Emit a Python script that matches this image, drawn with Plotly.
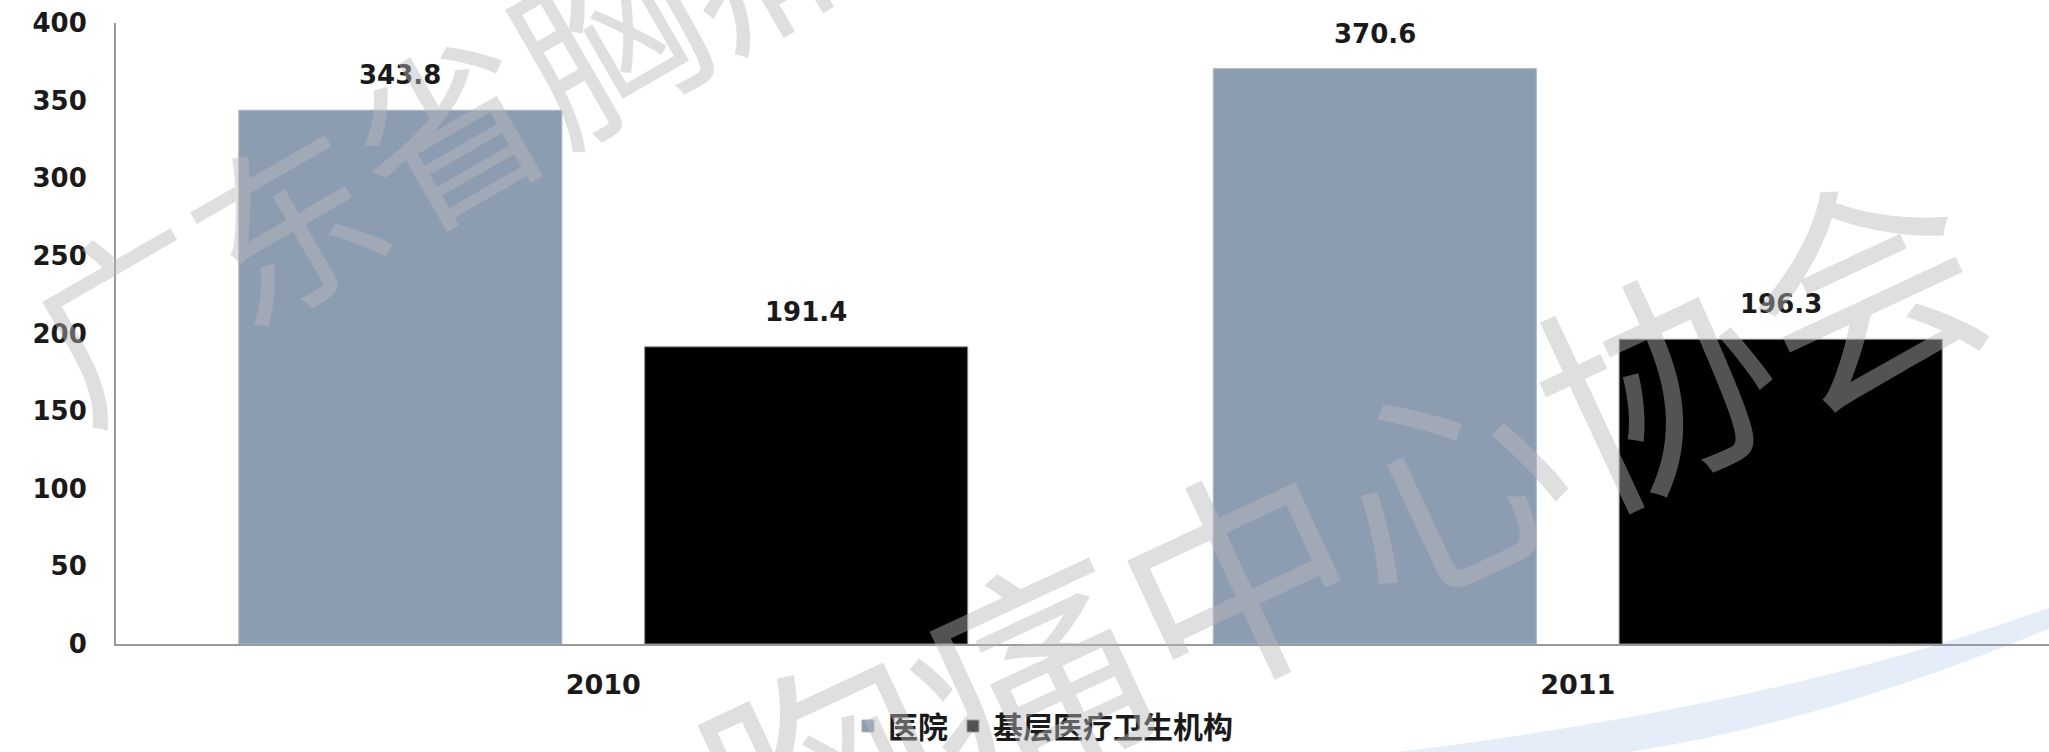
import plotly.graph_objects as go

# ---- data ----
years = ["2010", "2011"]
hospital = [343.8, 370.6]          # 医院
primary = [191.4, 196.3]           # 基层医疗卫生机构
series_names = ["医院", "基层医疗卫生机构"]
y_ticks = [0, 50, 100, 150, 200, 250, 300, 350, 400]
watermark = "广东省胸痛中心协会"

NUM_FONT = "DejaVu Sans"
CJK_FONT = "Noto Sans CJK SC"
BAR_W = 0.3315
OFF_A = -0.374
OFF_B = 0.0425

fig = go.Figure()
fig.add_trace(go.Bar(
    x=years, y=hospital, name=series_names[0],
    width=BAR_W, offset=OFF_A,
    marker=dict(color="#8c9db2", line=dict(color="#a9b6c6", width=1)),
))
fig.add_trace(go.Bar(
    x=years, y=primary, name=series_names[1],
    width=BAR_W, offset=OFF_B,
    marker=dict(color="#000000", line=dict(color="#8c8c8c", width=1)),
))

# value labels above bars
for i, v in enumerate(hospital):
    fig.add_annotation(x=i + OFF_A + BAR_W / 2, y=v, text=f"{v:.1f}",
                       showarrow=False, yanchor="bottom", yshift=18,
                       font=dict(family=NUM_FONT, size=26, color="#1a1a1a", weight="bold"))
for i, v in enumerate(primary):
    fig.add_annotation(x=i + OFF_B + BAR_W / 2, y=v, text=f"{v:.1f}",
                       showarrow=False, yanchor="bottom", yshift=18,
                       font=dict(family=NUM_FONT, size=26, color="#1a1a1a", weight="bold"))

# watermark (two diagonal lines of text)
for (wx, wy, ws, wa) in [(0.335, 1.135, 185, -30), (0.470, -0.035, 230, -25)]:
    fig.add_annotation(xref="paper", yref="paper", x=wx, y=wy, text=watermark,
                       showarrow=False, textangle=wa, xanchor="center", yanchor="middle",
                       font=dict(family=CJK_FONT, size=ws, color="rgba(184,184,184,0.45)"))

# decorative light-blue swoosh at bottom right (background ornament)
fig.add_shape(type="path", xref="paper", yref="paper", layer="below",
              path="M 0.66,-0.175 Q 0.86,-0.10 1.0,0.058 L 1.0,0.025 Q 0.88,-0.13 0.78,-0.175 Z",
              fillcolor="rgba(205,222,242,0.55)", line=dict(width=0))

fig.update_layout(
    width=2049, height=752,
    margin=dict(l=116, r=0, t=23, b=108, autoexpand=False),
    paper_bgcolor="white", plot_bgcolor="rgba(0,0,0,0)",
    barmode="group",
    showlegend=True,
    legend=dict(orientation="h", x=0.509, xanchor="center", xref="container",
                y=-0.018, yanchor="bottom", yref="container",
                font=dict(family=CJK_FONT, size=30, color="#1a1a1a", weight="bold"),
                itemwidth=30, tracegroupgap=0, bgcolor="rgba(0,0,0,0)"),
    xaxis=dict(type="category", range=[-0.5, 1.4836], showline=True, linecolor="#9a9a9a",
               linewidth=2, showgrid=False, zeroline=False, ticks="",
               tickfont=dict(family=NUM_FONT, size=27, color="#1a1a1a", weight="bold"),
               ticklabelstandoff=16),
    yaxis=dict(range=[0, 400], tickvals=y_ticks, showline=True, linecolor="#9a9a9a",
               linewidth=2, showgrid=False, zeroline=False, ticks="",
               tickfont=dict(family=NUM_FONT, size=26, color="#1a1a1a", weight="bold"),
               ticklabelstandoff=22),
)

fig.write_html("out.html")
